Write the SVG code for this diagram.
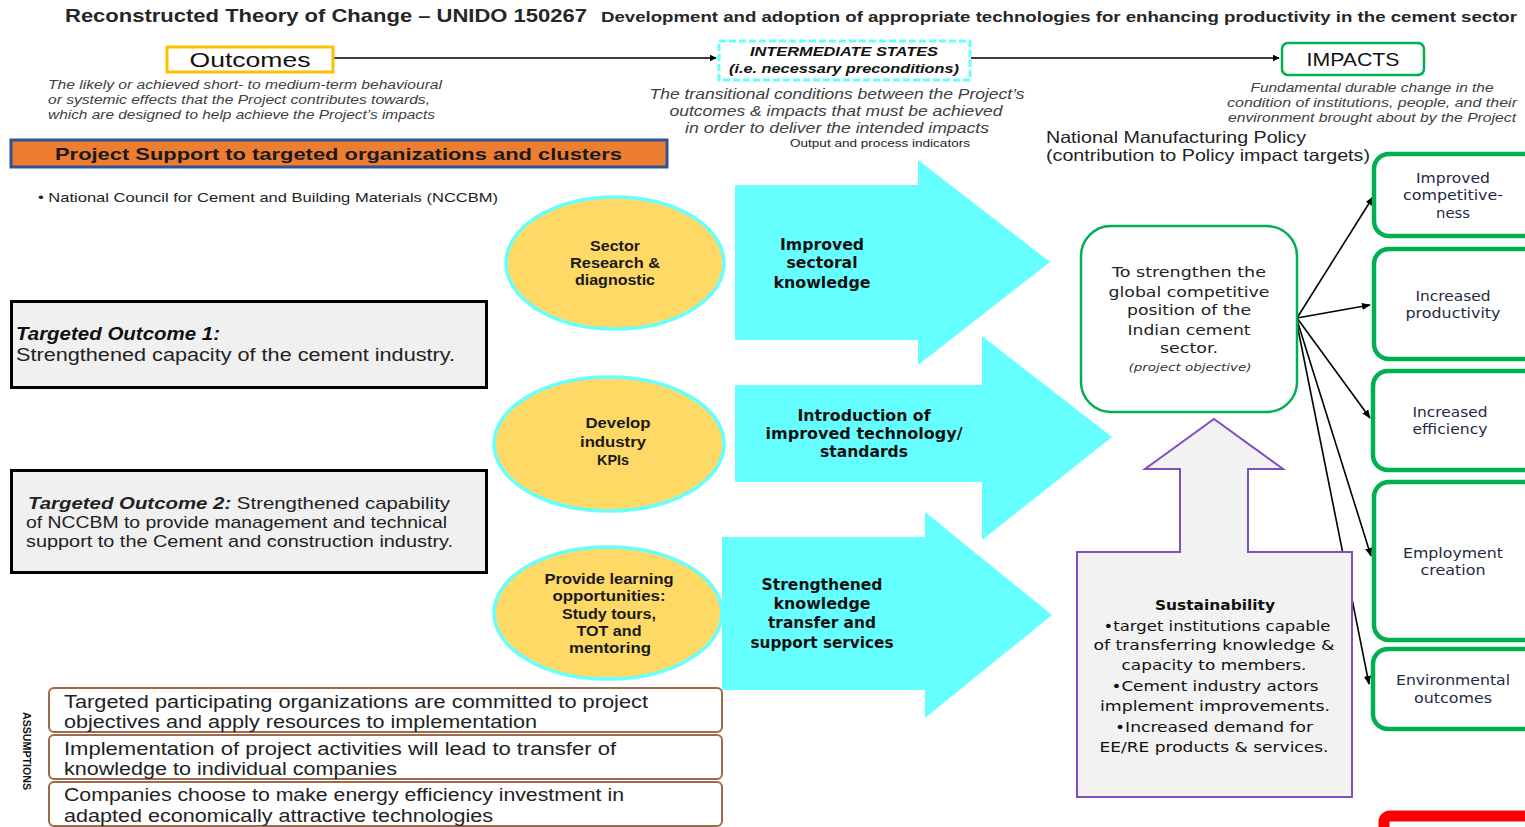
<svg xmlns="http://www.w3.org/2000/svg" width="1525" height="827" viewBox="0 0 1525 827">
<defs>
<marker id="ah" viewBox="0 0 10 10" refX="9" refY="5" markerWidth="7" markerHeight="7" orient="auto" markerUnits="userSpaceOnUse">
<path d="M0,0 L10,5 L0,10 z" fill="#000"/>
</marker>
<marker id="ah2" viewBox="0 0 10 10" refX="9" refY="5" markerWidth="9" markerHeight="9" orient="auto" markerUnits="userSpaceOnUse">
<path d="M0,1 L10,5 L0,9 z" fill="#000"/>
</marker>
</defs>
<style>
.cal{font-family:"Liberation Sans",Arial,sans-serif;}
.ver{font-family:"DejaVu Sans",Verdana,sans-serif;}
.desc{font-family:"Liberation Sans",Arial,sans-serif;font-style:italic;fill:#404040;}
.ell{fill:#FFD966;stroke:#66FFFF;stroke-width:3.5;}
.ellt{font-family:"Liberation Sans",Arial,sans-serif;font-weight:bold;font-size:14.5px;fill:#1a1a1a;text-anchor:middle;}
.cyan{fill:#66FFFF;}
.arrt{font-family:"DejaVu Sans",Verdana,sans-serif;font-weight:bold;font-size:15px;fill:#111;text-anchor:middle;}
.imp{fill:#fff;stroke:#00B050;stroke-width:4.5;}
.impt{font-family:"DejaVu Sans",Verdana,sans-serif;font-size:13.5px;fill:#1F2A44;text-anchor:middle;}
.asm{fill:#fff;stroke:#9C6B4E;stroke-width:2;}
.asmt{font-family:"Liberation Sans",Arial,sans-serif;font-size:17.5px;fill:#222;}
.conn{stroke:#000;stroke-width:1.6;fill:none;}
</style>

<g id="title">
<text class="cal" x="65" y="22" font-size="19" font-weight="bold" fill="#262626" textLength="522" lengthAdjust="spacingAndGlyphs">Reconstructed Theory of Change – UNIDO 150267</text>
<text class="cal" x="601" y="22" font-size="15" font-weight="bold" fill="#262626" textLength="916" lengthAdjust="spacingAndGlyphs">Development and adoption of appropriate technologies for enhancing productivity in the cement sector</text>
</g>

<g id="connectors">
<line class="conn" x1="334" y1="58" x2="716" y2="58" marker-end="url(#ah)"/>
<line class="conn" x1="971" y1="58" x2="1279" y2="58" marker-end="url(#ah)"/>
<line class="conn" x1="1297" y1="318" x2="1373" y2="197" marker-end="url(#ah2)"/>
<line class="conn" x1="1297" y1="318" x2="1370" y2="305" marker-end="url(#ah2)"/>
<line class="conn" x1="1297" y1="318" x2="1370" y2="418" marker-end="url(#ah2)"/>
<line class="conn" x1="1297" y1="320" x2="1371" y2="556" marker-end="url(#ah2)"/>
<line class="conn" x1="1297" y1="324" x2="1369" y2="684" marker-end="url(#ah2)"/>
</g>

<g id="outcomes-header">
<rect x="167" y="47" width="166" height="25" fill="#fff" stroke="#FFC000" stroke-width="3"/>
<text class="cal" x="250" y="67" font-size="21" text-anchor="middle" fill="#111" textLength="121" lengthAdjust="spacingAndGlyphs">Outcomes</text>
<text class="desc" x="48" y="89" font-size="12" textLength="394" lengthAdjust="spacingAndGlyphs">The likely or achieved short- to medium-term behavioural</text>
<text class="desc" x="48" y="104" font-size="12" textLength="382" lengthAdjust="spacingAndGlyphs">or systemic effects that the Project contributes towards,</text>
<text class="desc" x="48" y="119" font-size="12" textLength="387" lengthAdjust="spacingAndGlyphs">which are designed to help achieve the Project’s impacts</text>
</g>

<g id="intermediate-header">
<rect x="719" y="41" width="251" height="39" fill="#fff" stroke="#66FFFF" stroke-width="3" stroke-dasharray="7 3"/>
<text class="cal" x="844" y="56" font-size="13.5" font-weight="bold" font-style="italic" text-anchor="middle" fill="#111" textLength="188" lengthAdjust="spacingAndGlyphs">INTERMEDIATE STATES</text>
<text class="cal" x="844" y="73" font-size="13.5" font-weight="bold" font-style="italic" text-anchor="middle" fill="#111" textLength="230" lengthAdjust="spacingAndGlyphs">(i.e. necessary preconditions)</text>
<text class="desc" x="837" y="99" font-size="14" text-anchor="middle" fill="#222" textLength="375" lengthAdjust="spacingAndGlyphs">The transitional conditions between the Project’s</text>
<text class="desc" x="836" y="116" font-size="14" text-anchor="middle" textLength="333" lengthAdjust="spacingAndGlyphs">outcomes &amp; impacts that must be achieved</text>
<text class="desc" x="837" y="133" font-size="14" text-anchor="middle" textLength="304" lengthAdjust="spacingAndGlyphs">in order to deliver the intended impacts</text>
<text class="cal" x="880" y="147" font-size="10" text-anchor="middle" fill="#222" textLength="180" lengthAdjust="spacingAndGlyphs">Output and process indicators</text>
</g>

<g id="impacts-header">
<rect x="1282" y="43" width="142" height="32" rx="6" fill="#fff" stroke="#00B050" stroke-width="2.5"/>
<text class="cal" x="1353" y="66" font-size="19" text-anchor="middle" fill="#111" textLength="93" lengthAdjust="spacingAndGlyphs">IMPACTS</text>
<text class="desc" x="1372" y="92" font-size="12" text-anchor="middle" textLength="243" lengthAdjust="spacingAndGlyphs">Fundamental durable change in the</text>
<text class="desc" x="1372" y="107" font-size="12" text-anchor="middle" textLength="290" lengthAdjust="spacingAndGlyphs">condition of  institutions, people, and their</text>
<text class="desc" x="1372" y="122" font-size="12" text-anchor="middle" textLength="288" lengthAdjust="spacingAndGlyphs">environment brought about by the Project</text>
</g>

<g id="policy">
<text class="cal" x="1046" y="143" font-size="16.5" fill="#222" textLength="260" lengthAdjust="spacingAndGlyphs">National Manufacturing Policy</text>
<text class="cal" x="1046" y="161" font-size="16.5" fill="#222" textLength="324" lengthAdjust="spacingAndGlyphs">(contribution to Policy impact targets)</text>
</g>

<g id="project-support">
<rect x="11" y="140" width="656" height="27" fill="#ED7D31" stroke="#2F5496" stroke-width="3"/>
<text class="cal" x="55" y="160" font-size="17" font-weight="bold" fill="#1a1a1a" textLength="567" lengthAdjust="spacingAndGlyphs">Project Support to targeted organizations and clusters</text>
<text class="cal" x="38" y="202" font-size="13" fill="#222" textLength="460" lengthAdjust="spacingAndGlyphs">• National Council for Cement and Building Materials (NCCBM)</text>
</g>

<g id="outcome1">
<rect x="11.5" y="301.5" width="475" height="86" fill="#F0F0F0" stroke="#000" stroke-width="3"/>
<text class="cal" x="16" y="340" font-size="17.5" font-weight="bold" font-style="italic" fill="#111" textLength="204" lengthAdjust="spacingAndGlyphs">Targeted Outcome 1:</text>
<text class="cal" x="16" y="361" font-size="17.5" fill="#222" textLength="439" lengthAdjust="spacingAndGlyphs">Strengthened capacity of the cement industry.</text>
</g>

<g id="outcome2">
<rect x="11.5" y="470.5" width="475" height="102" fill="#F0F0F0" stroke="#000" stroke-width="3"/>
<text class="cal" x="28" y="509" font-size="17" fill="#222" textLength="422" lengthAdjust="spacingAndGlyphs"><tspan font-weight="bold" font-style="italic">Targeted Outcome 2:</tspan> Strengthened capability</text>
<text class="cal" x="26" y="528" font-size="17" fill="#222" textLength="421" lengthAdjust="spacingAndGlyphs">of NCCBM to provide management and technical</text>
<text class="cal" x="26" y="547" font-size="17" fill="#222" textLength="427" lengthAdjust="spacingAndGlyphs">support to the Cement and construction industry.</text>
</g>

<g id="activity1">
<ellipse class="ell" cx="615" cy="263" rx="109" ry="66"/>
<text class="ellt" x="615" y="251" textLength="50" lengthAdjust="spacingAndGlyphs">Sector</text>
<text class="ellt" x="615" y="268" textLength="90" lengthAdjust="spacingAndGlyphs">Research &amp;</text>
<text class="ellt" x="615" y="285" textLength="80" lengthAdjust="spacingAndGlyphs">diagnostic</text>
</g>
<g id="activity2">
<ellipse class="ell" cx="609" cy="444" rx="115" ry="67"/>
<text class="ellt" x="618" y="428" textLength="65" lengthAdjust="spacingAndGlyphs">Develop</text>
<text class="ellt" x="613" y="447" textLength="66" lengthAdjust="spacingAndGlyphs">industry</text>
<text class="ellt" x="613" y="465" textLength="32" lengthAdjust="spacingAndGlyphs">KPIs</text>
</g>
<g id="activity3">
<ellipse class="ell" cx="608" cy="613" rx="114" ry="66"/>
<text class="ellt" x="609" y="584" textLength="129" lengthAdjust="spacingAndGlyphs">Provide learning</text>
<text class="ellt" x="609" y="601" textLength="113" lengthAdjust="spacingAndGlyphs">opportunities:</text>
<text class="ellt" x="609" y="619" textLength="94" lengthAdjust="spacingAndGlyphs">Study tours,</text>
<text class="ellt" x="609" y="636" textLength="65" lengthAdjust="spacingAndGlyphs">TOT and</text>
<text class="ellt" x="610" y="653" textLength="82" lengthAdjust="spacingAndGlyphs">mentoring</text>
</g>

<g id="state1">
<polygon class="cyan" points="735,185 918,185 918,160 1050,262 918,365 918,340 735,340"/>
<text class="arrt" x="822" y="250" textLength="84" lengthAdjust="spacingAndGlyphs">Improved</text>
<text class="arrt" x="822" y="268" textLength="71" lengthAdjust="spacingAndGlyphs">sectoral</text>
<text class="arrt" x="822" y="288" textLength="97" lengthAdjust="spacingAndGlyphs">knowledge</text>
</g>
<g id="state2">
<polygon class="cyan" points="735,385 982,385 982,336 1112,437 982,540 982,482 735,482"/>
<text class="arrt" x="864" y="421" textLength="133" lengthAdjust="spacingAndGlyphs">Introduction of</text>
<text class="arrt" x="864" y="439" textLength="197" lengthAdjust="spacingAndGlyphs">improved technology/</text>
<text class="arrt" x="864" y="457" textLength="88" lengthAdjust="spacingAndGlyphs">standards</text>
</g>
<g id="state3">
<polygon class="cyan" points="722,537 925,537 925,512 1052,615 925,718 925,690 722,690"/>
<text class="arrt" x="822" y="590" textLength="121" lengthAdjust="spacingAndGlyphs">Strengthened</text>
<text class="arrt" x="822" y="609" textLength="97" lengthAdjust="spacingAndGlyphs">knowledge</text>
<text class="arrt" x="822" y="628" textLength="108" lengthAdjust="spacingAndGlyphs">transfer and</text>
<text class="arrt" x="822" y="648" textLength="143" lengthAdjust="spacingAndGlyphs">support services</text>
</g>

<g id="objective">
<rect x="1081" y="226" width="216" height="186" rx="30" fill="#fff" stroke="#00B050" stroke-width="2.5"/>
<text class="ver" x="1189" y="277" font-size="14" text-anchor="middle" fill="#222" textLength="154" lengthAdjust="spacingAndGlyphs">To strengthen the</text>
<text class="ver" x="1189" y="297" font-size="14" text-anchor="middle" fill="#222" textLength="161" lengthAdjust="spacingAndGlyphs">global competitive</text>
<text class="ver" x="1189" y="315" font-size="14" text-anchor="middle" fill="#222" textLength="124" lengthAdjust="spacingAndGlyphs">position of the</text>
<text class="ver" x="1189" y="335" font-size="14" text-anchor="middle" fill="#222" textLength="123" lengthAdjust="spacingAndGlyphs">Indian cement</text>
<text class="ver" x="1189" y="353" font-size="14" text-anchor="middle" fill="#222" textLength="58" lengthAdjust="spacingAndGlyphs">sector.</text>
<text class="ver" x="1190" y="371" font-size="11" font-style="italic" text-anchor="middle" fill="#333" textLength="123" lengthAdjust="spacingAndGlyphs">(project objective)</text>
</g>

<g id="sustainability">
<path d="M1077,552 L1180,552 L1180,469 L1145,469 L1214,419 L1283,469 L1248,469 L1248,552 L1352,552 L1352,797 L1077,797 Z" fill="#F2F2F2" stroke="#7F4FBF" stroke-width="2"/>
<text class="ver" x="1215" y="610" font-size="14.5" font-weight="bold" text-anchor="middle" fill="#111" textLength="120" lengthAdjust="spacingAndGlyphs">Sustainability</text>
<text class="ver" x="1217" y="631" font-size="14.5" text-anchor="middle" fill="#111" textLength="227" lengthAdjust="spacingAndGlyphs">•target institutions capable</text>
<text class="ver" x="1214" y="650" font-size="14.5" text-anchor="middle" fill="#111" textLength="241" lengthAdjust="spacingAndGlyphs">of transferring knowledge &amp;</text>
<text class="ver" x="1214" y="670" font-size="14.5" text-anchor="middle" fill="#111" textLength="185" lengthAdjust="spacingAndGlyphs">capacity to members.</text>
<text class="ver" x="1215" y="691" font-size="14.5" text-anchor="middle" fill="#111" textLength="207" lengthAdjust="spacingAndGlyphs">•Cement industry actors</text>
<text class="ver" x="1215" y="711" font-size="14.5" text-anchor="middle" fill="#111" textLength="230" lengthAdjust="spacingAndGlyphs">implement improvements.</text>
<text class="ver" x="1214" y="732" font-size="14.5" text-anchor="middle" fill="#111" textLength="198" lengthAdjust="spacingAndGlyphs">•Increased demand for</text>
<text class="ver" x="1214" y="752" font-size="14.5" text-anchor="middle" fill="#111" textLength="229" lengthAdjust="spacingAndGlyphs">EE/RE products &amp; services.</text>
</g>

<g id="impact1">
<rect class="imp" x="1374" y="154" width="190" height="82" rx="15"/>
<text class="impt" x="1453" y="183" textLength="74" lengthAdjust="spacingAndGlyphs">Improved</text>
<text class="impt" x="1453" y="200" textLength="100" lengthAdjust="spacingAndGlyphs">competitive-</text>
<text class="impt" x="1453" y="218" textLength="34" lengthAdjust="spacingAndGlyphs">ness</text>
</g>
<g id="impact2">
<rect class="imp" x="1374" y="249" width="190" height="110" rx="15"/>
<text class="impt" x="1453" y="301" textLength="75" lengthAdjust="spacingAndGlyphs">Increased</text>
<text class="impt" x="1453" y="318" textLength="95" lengthAdjust="spacingAndGlyphs">productivity</text>
</g>
<g id="impact3">
<rect class="imp" x="1373" y="371" width="190" height="99" rx="15"/>
<text class="impt" x="1450" y="417" textLength="75" lengthAdjust="spacingAndGlyphs">Increased</text>
<text class="impt" x="1450" y="434" textLength="75" lengthAdjust="spacingAndGlyphs">efficiency</text>
</g>
<g id="impact4">
<rect class="imp" x="1374" y="482" width="190" height="158" rx="15"/>
<text class="impt" x="1453" y="558" textLength="100" lengthAdjust="spacingAndGlyphs">Employment</text>
<text class="impt" x="1453" y="575" textLength="65" lengthAdjust="spacingAndGlyphs">creation</text>
</g>
<g id="impact5">
<rect class="imp" x="1373" y="649" width="190" height="80" rx="15"/>
<text class="impt" x="1453" y="685" textLength="114" lengthAdjust="spacingAndGlyphs">Environmental</text>
<text class="impt" x="1453" y="703" textLength="78" lengthAdjust="spacingAndGlyphs">outcomes</text>
</g>

<g id="assumptions">
<text class="cal" transform="translate(23,712) rotate(90)" font-size="11" font-weight="bold" fill="#111" textLength="78" lengthAdjust="spacingAndGlyphs">ASSUMPTIONS</text>
<rect class="asm" x="49" y="688" width="673" height="44" rx="5"/>
<text class="asmt" x="64" y="708" textLength="584" lengthAdjust="spacingAndGlyphs">Targeted participating organizations are committed to project</text>
<text class="asmt" x="64" y="728" textLength="473" lengthAdjust="spacingAndGlyphs">objectives and apply resources to implementation</text>
<rect class="asm" x="49" y="735" width="673" height="44" rx="5"/>
<text class="asmt" x="64" y="755" textLength="552" lengthAdjust="spacingAndGlyphs">Implementation of project activities will lead to transfer of</text>
<text class="asmt" x="64" y="775" textLength="333" lengthAdjust="spacingAndGlyphs">knowledge to individual companies</text>
<rect class="asm" x="49" y="782" width="673" height="44" rx="5"/>
<text class="asmt" x="64" y="801" textLength="560" lengthAdjust="spacingAndGlyphs">Companies choose to make energy efficiency investment in</text>
<text class="asmt" x="64" y="822" textLength="429" lengthAdjust="spacingAndGlyphs">adapted economically attractive technologies</text>
</g>

<g id="red-frame">
<rect x="1384" y="816" width="200" height="60" rx="6" fill="none" stroke="#FF0000" stroke-width="11"/>
</g>
</svg>
